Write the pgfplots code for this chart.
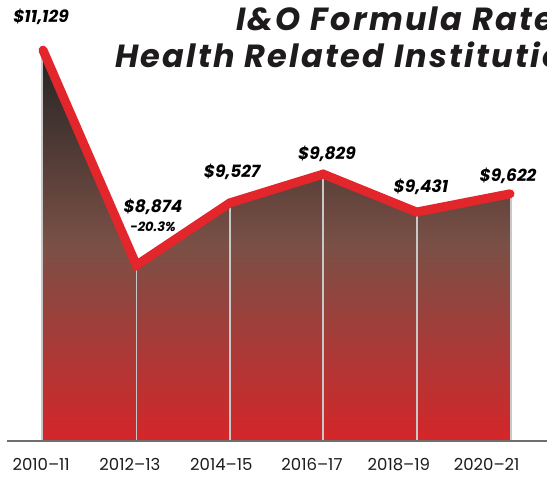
\documentclass[border=0pt]{standalone}
\usepackage{fontspec}
\setmainfont{Poppins}
\usepackage{pgfplots}
\pgfplotsset{compat=1.18}
\definecolor{linered}{HTML}{E3262B}
\definecolor{topc}{HTML}{242424}
\definecolor{midc}{HTML}{7A5046}
\definecolor{botc}{HTML}{D4262A}
\definecolor{vgrey}{HTML}{C8C8C8}
\definecolor{basegrey}{HTML}{6E6E6E}
\definecolor{txt}{HTML}{1E1B1C}
\begin{document}
\begin{tikzpicture}
\begin{axis}[
  scale only axis, width=547pt, height=440pt,
  xmin=-0.4604, xmax=5.3961, ymin=7040, ymax=11655,
  axis line style={draw=none}, tick style={draw=none},
  ytick=\empty,
  xtick={-0.02,0.93,1.91,2.88,3.81,4.75},
  xticklabels={2010–11,2012–13,2014–15,2016–17,2018–19,2020–21},
  xticklabel style={anchor=base, inner sep=0pt, yshift=-31pt, font=\fontsize{16.5}{16.5}\selectfont, text=txt},
  clip=false,
  nodes={text=txt},
]
\addplot[draw=none, top color=topc, bottom color=botc, middle color=midc]
  coordinates {(0,7040) (0,11129) (1,8874) (2,9527) (3,9829) (4,9431) (5,9622) (5,7040)} -- cycle;
\addplot[vgrey, line width=2.2pt] coordinates {(-0.012,7040) (-0.012,11129)};
\addplot[vgrey, line width=1.8pt] coordinates {(1,7040) (1,8874)};
\addplot[vgrey, line width=1.8pt] coordinates {(2,7040) (2,9527)};
\addplot[vgrey, line width=1.8pt] coordinates {(3,7040) (3,9829)};
\addplot[vgrey, line width=1.8pt] coordinates {(4,7040) (4,9431)};
\addplot[vgrey, line width=2.2pt] coordinates {(5.01,7040) (5.01,9622)};
\addplot[basegrey, line width=1.8pt] coordinates {(-0.385,7030) (5.4,7030)};
\addplot[linered, line width=9pt, line cap=round, line join=miter]
  coordinates {(0,11129) (1,8874) (2,9527) (3,9829) (4,9431) (5,9622)};
% data labels
\begin{scope}[every node/.style={font=\fontsize{17}{17}\selectfont\bfseries\itshape, anchor=base, inner sep=0pt}]
\node at (axis cs:-0.021,11424) {\$11,129};
\node at (axis cs:1.178,9421) {\$8,874};
\node[font=\fontsize{13}{13}\selectfont\bfseries\itshape] at (axis cs:1.178,9232) {-20.3\%};
\node at (axis cs:2.024,9788) {\$9,527};
\node at (axis cs:3.041,9977) {\$9,829};
\node at (axis cs:4.047,9631) {\$9,431};
\node at (axis cs:4.979,9756) {\$9,622};
\end{scope}
% title
\node[anchor=base west, inner sep=0pt, font=\fontsize{32}{32}\selectfont\bfseries\itshape\addfontfeatures{LetterSpace=7}] at (axis cs:2.066,11340) {I\&O Formula Rates};
\node[anchor=base west, inner sep=0pt, font=\fontsize{32}{32}\selectfont\bfseries\itshape\addfontfeatures{LetterSpace=7}] at (axis cs:0.771,10942) {Health Related Institutions};
\end{axis}
\pgfresetboundingbox
\path[use as bounding box] ([yshift=-37pt]current axis.south west) rectangle (current axis.north east);
\end{tikzpicture}
\end{document}
